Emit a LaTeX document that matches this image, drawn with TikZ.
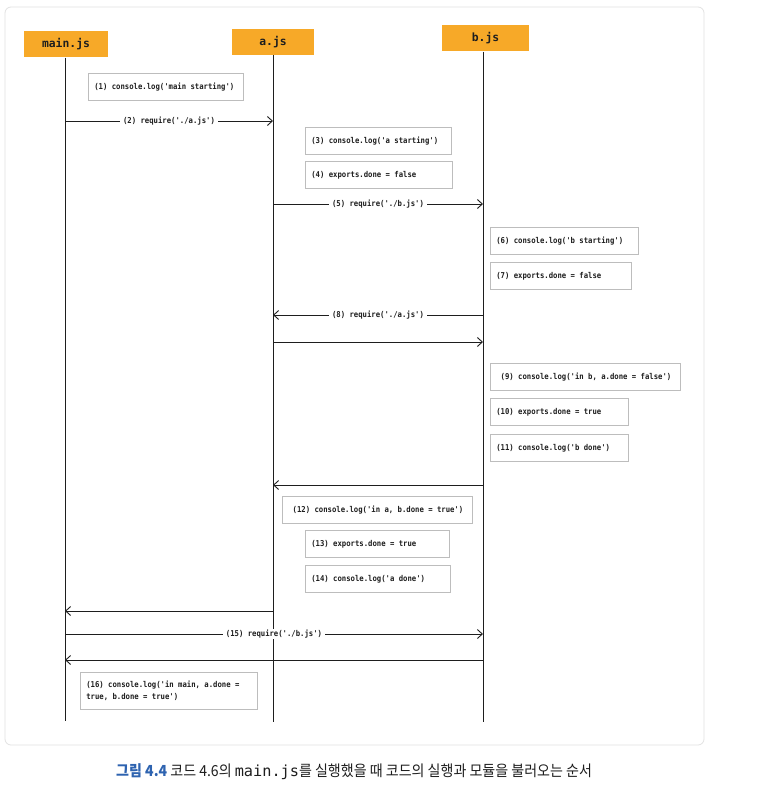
\documentclass[tikz,border=0pt]{standalone}
\usepackage{fontspec}
\setmainfont{Noto Sans CJK KR}
\newfontfamily\codefont[WordSpace={1,0,0}]{DejaVu Sans Mono}
\newfontfamily\boxfont[WordSpace={1,0,0},FakeStretch=0.9]{DejaVu Sans Mono}
\newfontfamily\krfont[FakeStretch=0.92]{Noto Sans CJK KR}
\usetikzlibrary{arrows.meta}
\definecolor{hdrfill}{HTML}{F7A928}
\definecolor{boxline}{HTML}{BDBDBD}
\definecolor{framecol}{HTML}{E2E2E2}
\definecolor{capblue}{HTML}{2E63B0}
\definecolor{ink}{HTML}{1E1E1E}
\tikzset{
  hdr/.style={fill=hdrfill, draw=none, minimum height=26bp, inner sep=0pt, font=\codefont\bfseries\fontsize{11.4}{12}\selectfont, text=ink},
  cbox/.style={draw=boxline, line width=0.7bp, minimum height=27bp, inner xsep=6bp, inner ysep=3bp, align=left, anchor=west, font=\boxfont\bfseries\fontsize{8.1}{11.5}\selectfont, text=ink, fill=white, execute at begin node={\spaceskip=0pt\xspaceskip=0pt}},
  life/.style={draw=ink, line width=0.9bp},
  msg/.style={draw=ink, line width=0.9bp, -{Straight Barb[length=5bp,width=9bp,line width=0.9bp]}},
  lbl/.style={fill=white, inner xsep=3bp, inner ysep=1bp, font=\boxfont\bfseries\fontsize{8.1}{9}\selectfont, text=ink},
}
\begin{document}
\begin{tikzpicture}[x=1bp, y=-1bp]
\useasboundingbox (0,0) rectangle (763,800);
\fill[white] (0,0) rectangle (763,800);
\draw[framecol, line width=0.8bp, rounded corners=6bp] (5,7) rectangle (704,745);
% headers
\node[hdr, minimum width=84bp] (hm) at (66,44.5) {main.js};
\node[hdr, minimum width=82bp] (ha) at (273,42) {a.js};
\node[hdr, minimum width=87bp] (hb) at (485.5,38.5) {b.js};
% lifeline ends
\coordinate (em) at (65,721);
\coordinate (ea) at (273,722);
\coordinate (eb) at (483,722);
\draw[life] (hm.south -| em) -- (em);
\draw[life] (ha.south -| ea) -- (ea);
\draw[life] (hb.south -| eb) -- (eb);
% boxes
\node[cbox, text width=143bp] (b1) at (88,87) {(1) console.log('main starting')};
\node[cbox, text width=134bp] (b3) at (305,141) {(3) console.log('a starting')};
\node[cbox, text width=135bp] (b4) at (305,175) {(4) exports.done = false};
\node[cbox, text width=136bp] (b6) at (490,241) {(6) console.log('b starting')};
\node[cbox, text width=129bp] (b7) at (490,276) {(7) exports.done = false};
\node[cbox, text width=178bp] (b9) at (490,377) {\ (9) console.log('in b, a.done = false')};
\node[cbox, text width=126bp] (b10) at (490,412) {(10) exports.done = true};
\node[cbox, text width=126bp] (b11) at (490,448) {(11) console.log('b done')};
\node[cbox, text width=178bp] (b12) at (282,510) {\ (12) console.log('in a, b.done = true')};
\node[cbox, text width=132bp] (b13) at (305,544) {(13) exports.done = true};
\node[cbox, text width=133bp] (b14) at (305,579) {(14) console.log('a done')};
\node[cbox, text width=165bp, minimum height=37bp] (b16) at (80,691) {(16) console.log('in main, a.done =\\true, b.done = true')};
% message points
\coordinate (m2) at (65,121);  \coordinate (a2) at (273,121);
\coordinate (a5) at (273,204); \coordinate (b5) at (483,204);
\coordinate (b8) at (483,315); \coordinate (a8) at (273,315);
\coordinate (a8r) at (273,342); \coordinate (b8r) at (483,342);
\coordinate (b11r) at (483,485); \coordinate (a11r) at (273,485);
\coordinate (a14r) at (273,611); \coordinate (m14r) at (65,611);
\coordinate (m15) at (65,634); \coordinate (b15) at (483,634);
\coordinate (b15r) at (483,660); \coordinate (m15r) at (65,660);
% messages
\draw[msg] (m2) -- node[lbl] {(2) require('./a.js')} (a2);
\draw[msg] (a5) -- node[lbl] {(5) require('./b.js')} (b5);
\draw[msg] (b8) -- node[lbl] {(8) require('./a.js')} (a8);
\draw[msg] (a8r) -- (b8r);
\draw[msg] (b11r) -- (a11r);
\draw[msg] (a14r) -- (m14r);
\draw[msg] (m15) -- node[lbl] {(15) require('./b.js')} (b15);
\draw[msg] (b15r) -- (m15r);
% caption
\node[anchor=west, inner sep=0pt, font=\krfont\fontsize{15.3}{17}\selectfont, text=ink] (cap) at (116,772)
  {{\color{capblue}\bfseries 그림 4.4} 코드 4.6의 {\codefont main.js}를 실행했을 때 코드의 실행과 모듈을 불러오는 순서};
\end{tikzpicture}
\end{document}
